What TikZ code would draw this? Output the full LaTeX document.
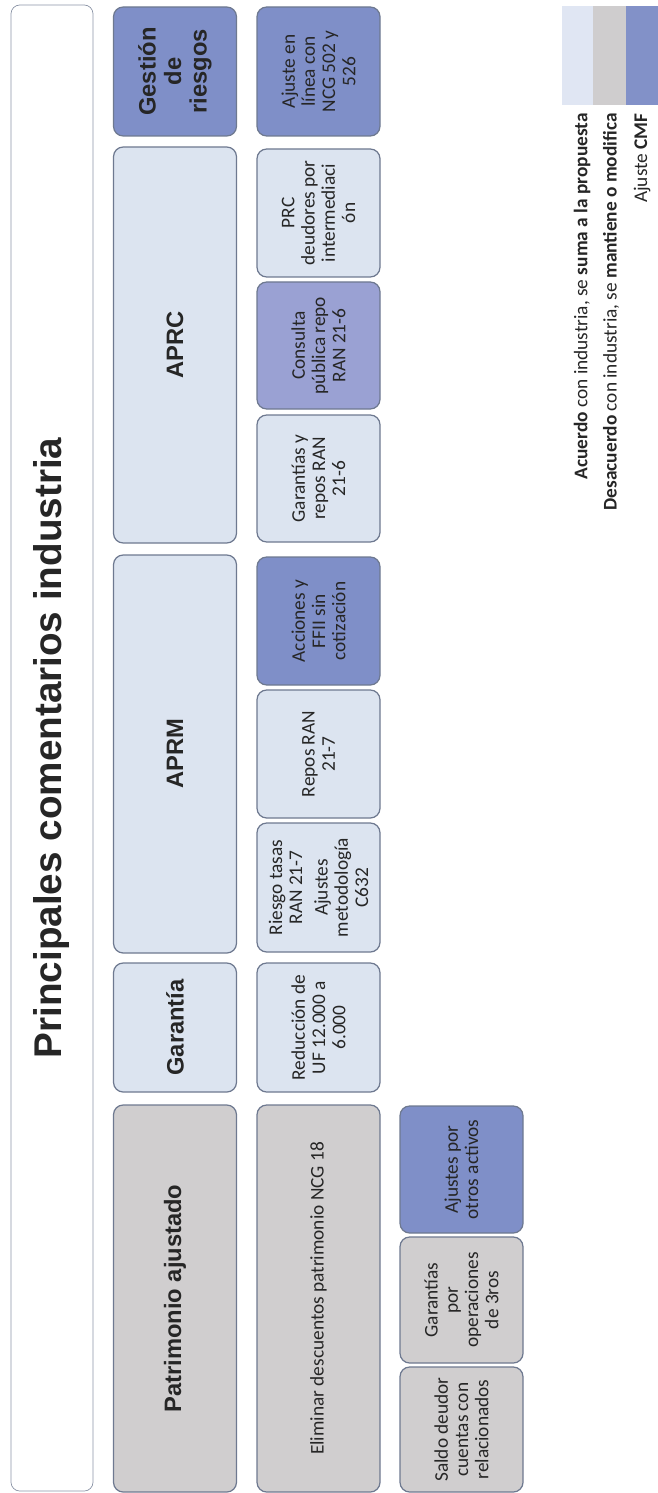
\documentclass[tikz,border=0pt]{standalone}
\usepackage{fontspec}
\setmainfont{Carlito}
\newfontfamily\headfont{Liberation Sans}
\definecolor{claro}{HTML}{DCE4F0}
\definecolor{gris}{HTML}{D0CECF}
\definecolor{azul}{HTML}{7F8FC8}
\definecolor{lila}{HTML}{9AA1D3}
\definecolor{borde}{HTML}{6E7990}
\definecolor{texto}{HTML}{262626}
\definecolor{leyclaro}{HTML}{E0E6F3}
\definecolor{leygris}{HTML}{CFCDCE}
\definecolor{leyazul}{HTML}{8291C8}

\begin{document}
\begin{tikzpicture}[x=0.02cm,y=-0.02cm,
    caja/.style={draw=borde,line width=0.7pt,rounded corners=5.5pt,rotate=90,align=center,
        inner sep=1pt,text=texto,minimum height=123*0.02cm},
    alto/.style={minimum width=#1*0.02cm},
    cabeza/.style={font=\headfont\bfseries\fontsize{13.5}{14.5}\selectfont},
    detalle/.style={font=\fontsize{11}{11.5}\selectfont}]
    \useasboundingbox (0,0) rectangle (658,1493);
    \node[draw=borde!80,rounded corners=5pt,rotate=90,minimum width=1486*0.02cm,minimum height=82*0.02cm,
        font=\headfont\bfseries\fontsize{22}{26}\selectfont,text=texto] (titulo) at (52,748) {Principales comentarios industria};
    \node[caja,cabeza,alto=129,fill=azul] (gestion) at (175,71.5) {Gestión\\de\\riesgos};
    \node[caja,cabeza,alto=396,fill=claro] (aprc) at (175,345) {APRC};
    \node[caja,cabeza,alto=398,fill=claro] (aprm) at (175,754) {APRM};
    \node[caja,cabeza,alto=129,fill=claro] (garantia) at (175,1027.5) {Garantía};
    \node[caja,cabeza,alto=387,fill=gris] (patrimonio) at (175,1298.5) {Patrimonio ajustado};
    \foreach \nombre/\y/\h/\relleno/\txt in {
        ajuste/71.5/129/azul/{Ajuste en\\línea con\\NCG 502 y\\526},
        prc/213/128/claro/{PRC\\deudores por\\intermediaci\\ón},
        consulta/345.5/127/lila/{Consulta\\pública repo\\RAN 21-6},
        garrepos/478.5/127/claro/{Garantías y\\repos RAN\\21-6},
        acciones/621/128/azul/{Acciones y\\FFII sin\\cotización},
        repos/754/128/claro/{Repos RAN\\21-7},
        riesgo/887.5/129/claro/{Riesgo tasas\\RAN 21-7\\[3pt]Ajustes\\metodología\\C632},
        reduccion/1027.5/129/claro/{Reducción de\\UF 12.000 a\\6.000},
        eliminar/1298.5/387/gris/{Eliminar descuentos patrimonio NCG 18}} {
        \node[caja,detalle,alto=\h,fill=\relleno] (\nombre) at (318.5,\y) {\txt};
    }
    \node[caja,detalle,alto=127,fill=azul] (otros) at (461.5,1169.5) {Ajustes por\\otros activos};
    \node[caja,detalle,alto=126,fill=gris] (terceros) at (461.5,1300) {Garantías\\por\\operaciones\\de 3ros};
    \node[caja,detalle,alto=125,fill=gris] (saldo) at (461.5,1429.5) {Saldo deudor\\cuentas con\\relacionados};
    \fill[leyclaro] (562,6) rectangle (593,105);
    \fill[leygris] (593,6) rectangle (626,105);
    \fill[leyazul] (626,6) rectangle (658,105);
    \node[rotate=90,anchor=east,inner sep=0pt,detalle,text=texto] (acuerdo) at (582,113)
        {\textbf{Acuerdo} con industria, se \textbf{suma a la propuesta}};
    \node[rotate=90,anchor=east,inner sep=0pt,detalle,text=texto] (desacuerdo) at (611,113)
        {\textbf{Desacuerdo} con industria, se \textbf{mantiene o modifica}};
    \node[rotate=90,anchor=east,inner sep=0pt,detalle,text=texto] (cmf) at (642,113)
        {Ajuste \textbf{CMF}};
\end{tikzpicture}
\end{document}
